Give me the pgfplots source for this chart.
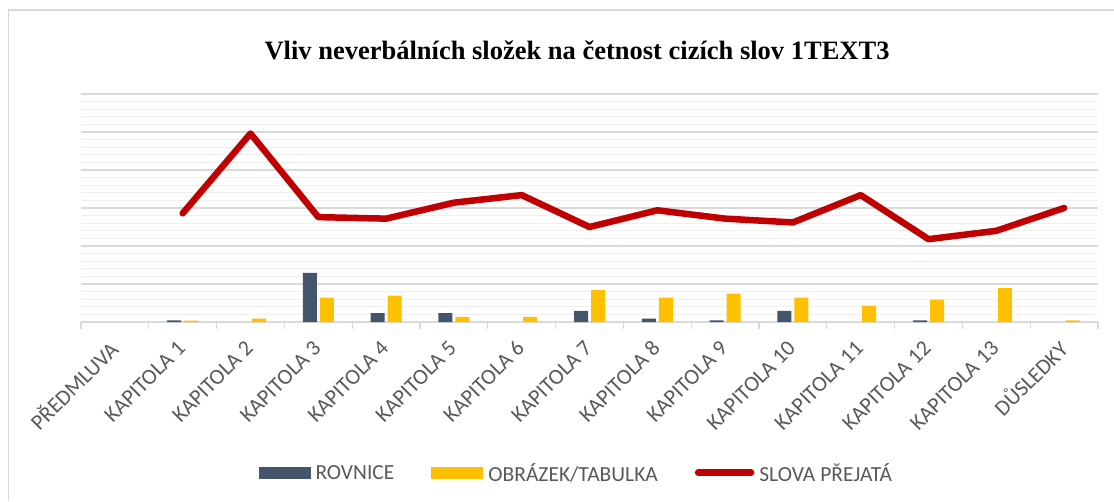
\documentclass[border=0pt]{standalone}
\usepackage{fontspec}
\setmainfont{Carlito}
\newfontfamily\titlefont{Liberation Serif}
\usepackage{pgfplots}
\pgfplotsset{compat=1.18}
\definecolor{rovnice}{HTML}{44546A}
\definecolor{obrazek}{HTML}{FFC000}
\definecolor{slova}{HTML}{C00000}
\definecolor{majgrid}{HTML}{D9D9D9}
\definecolor{mingrid}{HTML}{EFEFEF}
\definecolor{txt}{HTML}{595959}
\begin{document}
\begin{tikzpicture}[x=1pt,y=1pt]
\useasboundingbox (0,0) rectangle (1114,501);
\draw[majgrid, line width=1.2pt] (8.5,0) -- (8.5,491) -- (1114,491);
\node[font=\titlefont\bfseries\fontsize{26.5}{30}\selectfont, anchor=center] at (577,451) {Vliv neverbálních složek na četnost cizích slov 1TEXT3};
\begin{axis}[
  at={(81pt,179pt)}, anchor=south west,
  scale only axis, width=1017pt, height=228pt,
  xmin=-0.5, xmax=14.5, ymin=0, ymax=30,
  axis x line*=bottom, axis y line*=left,
  x axis line style={majgrid, line width=1.2pt},
  y axis line style={draw=none},
  ytick={0,5,...,30}, minor y tick num=4, yticklabels={},
  major y tick style={draw=none}, minor y tick style={draw=none},
  ymajorgrids, yminorgrids,
  major grid style={majgrid, line width=1.2pt},
  minor grid style={mingrid, line width=1.2pt},
  xtick={0,...,14},
  xticklabels={PŘEDMLUVA,KAPITOLA 1,KAPITOLA 2,KAPITOLA 3,KAPITOLA 4,KAPITOLA 5,KAPITOLA 6,KAPITOLA 7,KAPITOLA 8,KAPITOLA 9,KAPITOLA 10,KAPITOLA 11,KAPITOLA 12,KAPITOLA 13,DŮSLEDKY},
  major x tick style={draw=none},
  minor xtick={-0.5,0.5,...,14.5},
  minor x tick style={majgrid, line width=1.2pt},
  tick align=outside, minor tick length=7pt,
  xticklabel style={rotate=45, anchor=east, font=\fontsize{22}{26}\selectfont, text=txt, inner sep=1pt, xshift=-12.8pt, yshift=-12.2pt},
  clip=false,
  legend columns=3,
  legend style={at={(0.487,-0.665)}, anchor=center, draw=none, fill=none,
    font=\fontsize{21.5}{26}\selectfont, text=txt,
    /tikz/every odd column/.append style={column sep=3pt},
    /tikz/every even column/.append style={column sep=35pt},
    legend cell align=left},
]
\addplot[ybar, bar width=14pt, bar shift=-8.5pt, fill=rovnice, draw=none,
  legend image code/.code={\fill[rovnice] (0pt,-5pt) rectangle (52pt,7pt);}]
  coordinates {(1,0.22) (3,6.45) (4,1.18) (5,1.18) (7,1.45) (8,0.44) (9,0.22) (10,1.45) (12,0.22)};
\addlegendentry{ROVNICE}
\addplot[ybar, bar width=14pt, bar shift=8.5pt, fill=obrazek, draw=none,
  legend image code/.code={\fill[obrazek] (0pt,-5pt) rectangle (52pt,7pt);}]
  coordinates {(1,0.18) (2,0.44) (3,3.2) (4,3.47) (5,0.66) (6,0.66) (7,4.2) (8,3.2) (9,3.73) (10,3.2) (11,2.15) (12,2.94) (13,4.47) (14,0.22)};
\addlegendentry{OBRÁZEK/TABULKA}
\addplot[slova, line width=6.5pt, line cap=round, line join=round, mark=none,
  legend image code/.code={\draw[slova, line width=6.5pt, line cap=round] (3pt,1pt) -- (56pt,1pt);}]
  coordinates {(1,14.3) (2,24.8) (3,13.8) (4,13.6) (5,15.7) (6,16.7) (7,12.5) (8,14.7) (9,13.6) (10,13.1) (11,16.7) (12,10.9) (13,12.0) (14,15.0)};
\addlegendentry{SLOVA PŘEJATÁ}
\end{axis}
\end{tikzpicture}
\end{document}
